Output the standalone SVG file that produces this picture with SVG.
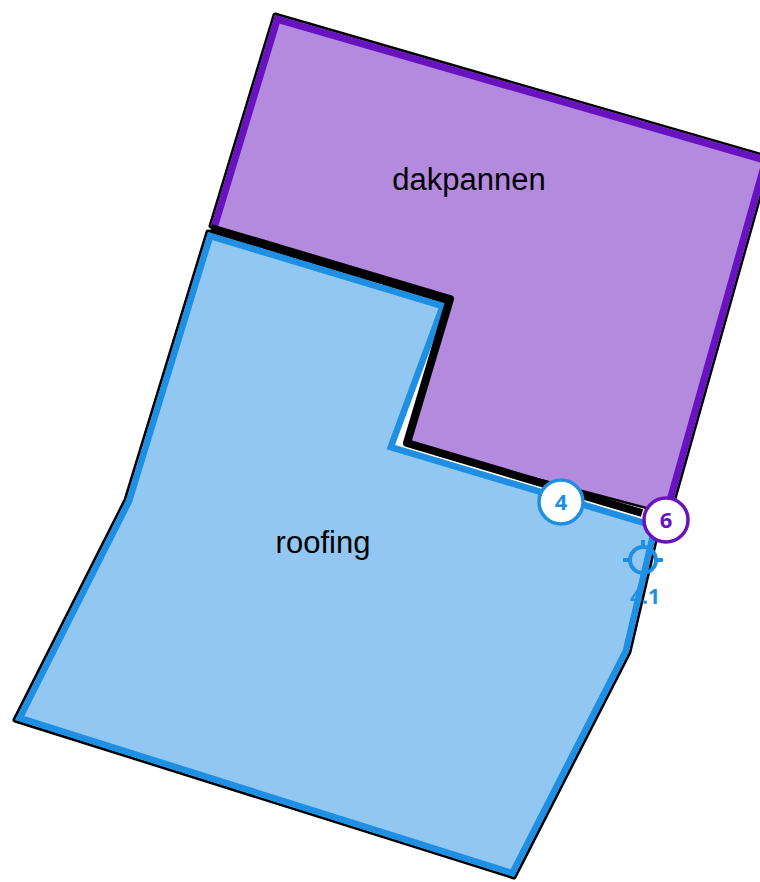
<svg xmlns="http://www.w3.org/2000/svg" width="760" height="882" viewBox="0 0 760 882">
<style>
.casing{fill:none;stroke:#000;stroke-width:5;stroke-linejoin:round}
.lbl{font-family:"Liberation Sans",Arial,sans-serif;font-size:31px;fill:#000;text-anchor:middle}
.num{font-family:"Open Sans","Liberation Sans",sans-serif;font-weight:bold;font-size:22px;text-anchor:middle}
.blue{fill:#1e8fe2}
.purple{fill:#6812c0}
</style>
<defs>
<clipPath id="clipPurple"><polygon points="275,15 770,158 670,513 407,443 450,299 211,226"/></clipPath>
<clipPath id="clipRoof"><polygon points="208,232 447,304 395,445 659,524 629,652 514,877 15,720 126,500"/></clipPath>
</defs>
<g id="dakpannen">
<polygon class="casing" points="275,15 770,158 670,513 407,443 450,299 211,226"/>
<polygon points="275,15 770,158 670,513 407,443 450,299 211,226" fill="#b48ade"/>
<polyline points="211,226 275,15 770,158 670,513" fill="none" stroke="#6812c0" stroke-width="14" clip-path="url(#clipPurple)"/>
<text class="lbl" x="469" y="190">dakpannen</text>
</g>
<g id="roofing">
<polyline class="casing" points="447,304 208,232 126,500 15,720 514,877 629,652 659,524"/>
<polygon points="208,232 447,304 395,445 659,524 629,652 514,877 15,720 126,500" fill="#91c7f0" stroke="#1e8fe2" stroke-width="13" clip-path="url(#clipRoof)"/>
<text class="lbl" x="323" y="553">roofing</text>
</g>
<g id="connectors">
<polyline points="211,228 450,299 407,443 642,513" fill="none" stroke="#000" stroke-width="8" stroke-linejoin="round"/>
</g>
<g id="marker-4-1">
<g fill="none" stroke="#1e8fe2" stroke-width="4">
<circle cx="643" cy="560" r="13"/>
<line x1="643" y1="540" x2="643" y2="548"/>
<line x1="643" y1="572" x2="643" y2="580"/>
<line x1="623" y1="560" x2="631" y2="560"/>
<line x1="655" y1="560" x2="663" y2="560"/>
</g>
<text class="num blue" x="645" y="604" style="font-size:21px">4.1</text>
</g>
<g id="vertex-4">
<circle cx="561" cy="502" r="22" fill="#fff" stroke="#1e8fe2" stroke-width="3.5"/>
<text class="num blue" x="561" y="510">4</text>
</g>
<g id="vertex-6">
<circle cx="666" cy="520" r="22" fill="#fff" stroke="#6812c0" stroke-width="3.5"/>
<text class="num purple" x="666" y="528">6</text>
</g>
</svg>
